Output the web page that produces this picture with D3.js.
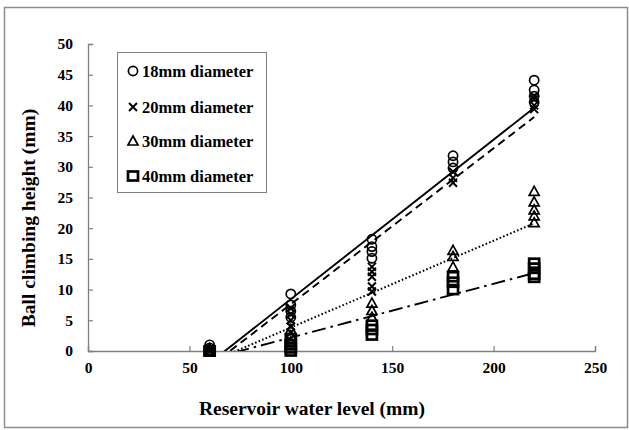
<!DOCTYPE html>
<html>
<head>
<meta charset="utf-8">
<script src="https://cdn.jsdelivr.net/npm/d3@7"></script>
<style>
  body { margin: 0; background: #fff; }
  svg text { font-family: "Liberation Serif", "Times New Roman", "DejaVu Serif", serif; font-weight: bold; }
</style>
</head>
<body>
<div id="chart"></div>
<script>
(function () {
  // readings per water level, one array per ball size
  const levels = [60, 100, 140, 180, 220];
  const series = ["18mm diameter", "20mm diameter", "30mm diameter", "40mm diameter"];
  const symbols = ["circle", "cross", "triangle", "square"];

  const d18 = [[1.0, 0.5], [9.3, 7.5, 6.5, 5.5], [18.2, 17.0, 16.2, 15.1], [31.8, 30.8, 29.8], [44.1, 42.5, 41.5, 40.5]];
  const d20 = [[0.3, 0], [7, 6, 5, 4, 3], [13.7, 12.9, 12.1, 10.5, 9.7], [29.2, 28.2, 27.4], [41.5, 41, 40, 39.4]];
  const d30 = [[0.4, 0], [3.5, 2.5, 1.5], [7.8, 6.6, 5.5], [16.4, 15.4, 13.7], [26, 24.3, 23, 22, 20.9]];
  const d40 = [[0, 0], [2, 1, 0.5, 0], [4.2, 3.5, 2.6], [12.1, 11.2, 10], [14.3, 13.5, 12.5, 12]];
  const seriesData = [d18, d20, d30, d40];

  // linear trendlines: slope, intercept
  const slopes = [0.2597, 0.254, 0.1415, 0.0876];
  const intercepts = [-17.53, -17.78, -10.33, -6.57];
  const dashes = [null, "8,5", "1.6,2.2", "14,5,2.5,5"];

  const xTicks = [0, 50, 100, 150, 200, 250];
  const yTicks = [0, 5, 10, 15, 20, 25, 30, 35, 40, 45, 50];

  const width = 629, height = 430;
  const left = 88, right = 595, top = 44, bottom = 351;
  const serif = "Liberation Serif, Times New Roman, serif";

  const svg = d3.select("#chart").append("svg")
    .attr("width", width).attr("height", height)
    .attr("font-family", serif).attr("font-weight", "bold");

  // outer frame
  svg.append("rect")
    .attr("x", 4.5).attr("y", 7.5).attr("width", 623).attr("height", 420)
    .attr("fill", "none").attr("stroke", "#8c8c8c").attr("stroke-width", 1.5);

  const x = d3.scaleLinear().domain([0, 250]).range([left, right]);
  const y = d3.scaleLinear().domain([0, 50]).range([bottom, top]);

  svg.append("clipPath").attr("id", "plot")
    .append("rect").attr("x", left).attr("y", top).attr("width", right - left).attr("height", bottom - top);

  // axes
  const xAxis = svg.append("g").attr("transform", `translate(0,${bottom})`)
    .call(d3.axisBottom(x).tickValues(xTicks).tickSize(-5).tickPadding(11));
  const yAxis = svg.append("g").attr("transform", `translate(${left},0)`)
    .call(d3.axisLeft(y).tickValues(yTicks).tickSize(-5).tickPadding(15));
  [xAxis, yAxis].forEach(g => {
    g.attr("font-family", serif).attr("font-size", 15.5);
    g.select(".domain").attr("stroke", "#808080").attr("stroke-width", 1.3);
    g.selectAll(".tick line").attr("stroke", "#808080").attr("stroke-width", 1.2);
    g.selectAll(".tick text").attr("fill", "#000");
  });

  svg.append("text").attr("x", 312).attr("y", 415).attr("text-anchor", "middle")
    .attr("font-size", 19.5).text("Reservoir water level (mm)");
  svg.append("text").attr("transform", "translate(35,218) rotate(-90)").attr("text-anchor", "middle")
    .attr("font-size", 19.5).text("Ball climbing height (mm)");

  // trendlines
  const plot = svg.append("g").attr("clip-path", "url(#plot)");
  const line = d3.line().x(d => x(d[0])).y(d => y(d[1]));
  series.forEach((s, i) => {
    const pts = [60, 220].map(v => [v, slopes[i] * v + intercepts[i]]);
    plot.append("path").attr("d", line(pts))
      .attr("fill", "none").attr("stroke", "#000").attr("stroke-width", i === 2 ? 2 : 1.9)
      .attr("stroke-dasharray", dashes[i]);
  });

  function marker(g, type, cx, cy) {
    if (type === "circle") {
      g.append("circle").attr("cx", cx).attr("cy", cy).attr("r", 4.6)
        .attr("fill", "none").attr("stroke", "#000").attr("stroke-width", 1.7);
    } else if (type === "cross") {
      g.append("path").attr("d", `M${cx - 4},${cy - 4}L${cx + 4},${cy + 4}M${cx - 4},${cy + 4}L${cx + 4},${cy - 4}`)
        .attr("stroke", "#000").attr("stroke-width", 2);
    } else if (type === "triangle") {
      g.append("path").attr("d", `M${cx},${cy - 5}L${cx + 5},${cy + 4}L${cx - 5},${cy + 4}Z`)
        .attr("fill", "none").attr("stroke", "#000").attr("stroke-width", 1.7);
    } else {
      g.append("rect").attr("x", cx - 5).attr("y", cy - 4.5).attr("width", 10).attr("height", 9)
        .attr("fill", "none").attr("stroke", "#000").attr("stroke-width", 2.7);
    }
  }

  const points = svg.append("g");
  seriesData.forEach((data, i) => {
    data.forEach((vals, j) => {
      vals.forEach(v => marker(points, symbols[i], x(levels[j]), y(v)));
    });
  });

  // legend
  const legend = svg.append("g");
  legend.append("rect").attr("x", 117.5).attr("y", 52.5).attr("width", 149).attr("height", 140)
    .attr("fill", "#fff").attr("stroke", "#808080").attr("stroke-width", 1);
  const legendY = [71, 107, 141, 176];
  series.forEach((s, i) => {
    marker(legend, symbols[i], 133, legendY[i]);
    legend.append("text").attr("x", 142).attr("y", legendY[i] + 5.5)
      .attr("font-size", 16.5).text(s);
  });
})();
</script>
</body>
</html>
